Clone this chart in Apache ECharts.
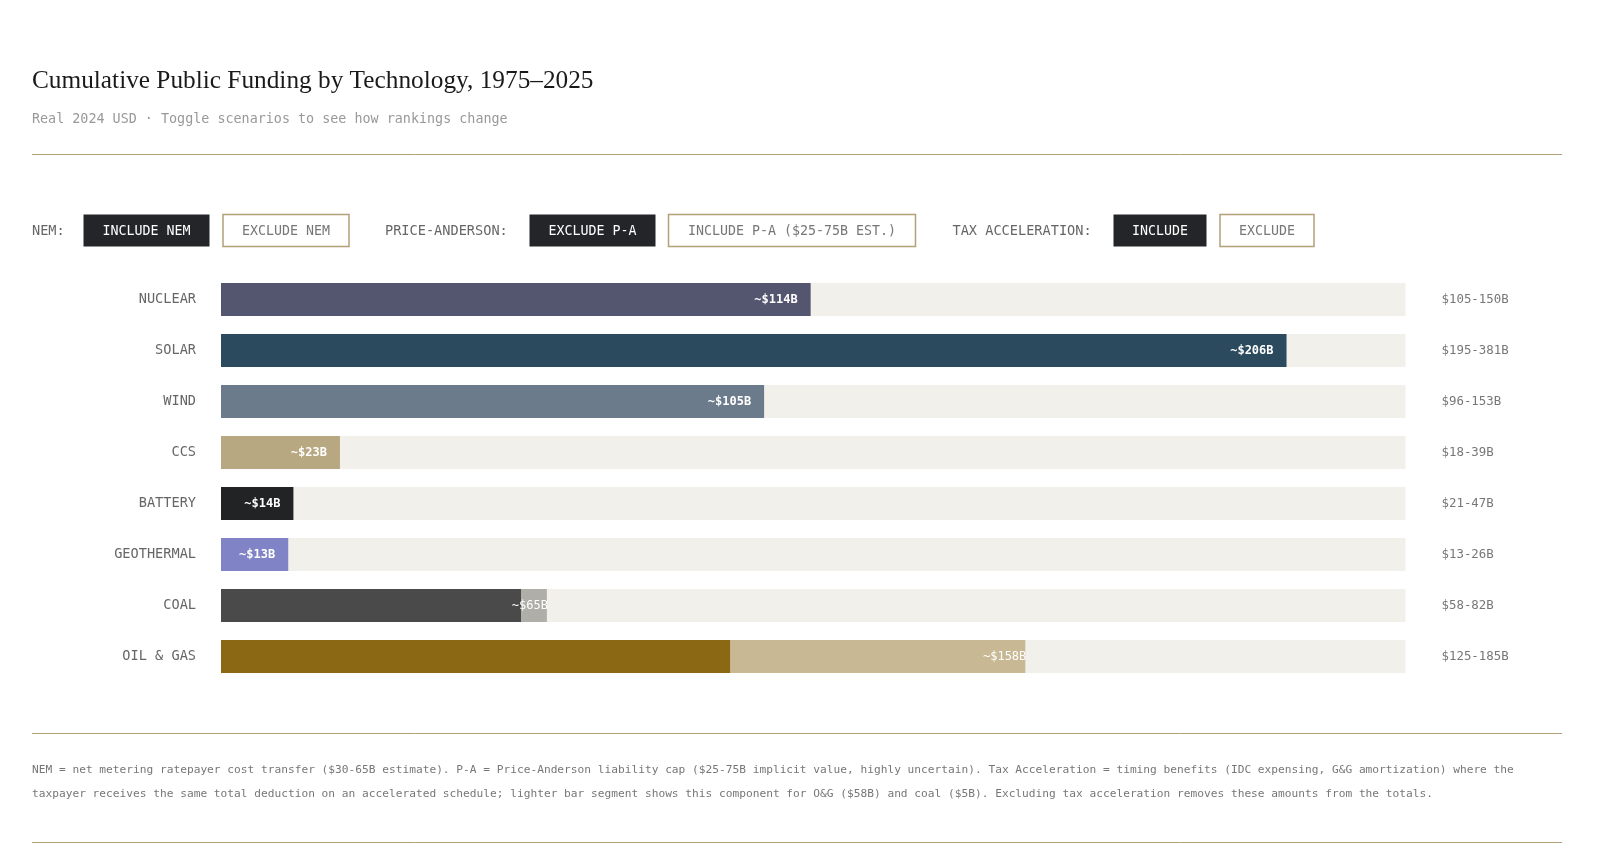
<!DOCTYPE html>
<html>
<head>
<meta charset="utf-8">
<script src="https://cdn.jsdelivr.net/npm/echarts@6/dist/echarts.min.js"></script>
<style>
  html, body { margin: 0; padding: 0; background: #fff; }
  #main { width: 1618px; height: 868px; }
</style>
</head>
<body>
<div id="main"></div>
<script>
// data
var categories = ['NUCLEAR', 'SOLAR', 'WIND', 'CCS', 'BATTERY', 'GEOTHERMAL', 'COAL', 'OIL & GAS'];
var baseValues = [114, 206, 105, 23, 14, 13, 58, 98.5];
var taxAccelValues = [0, 0, 0, 0, 0, 0, 5, 57];
var valueLabels = ['~$114B', '~$206B', '~$105B', '~$23B', '~$14B', '~$13B', '~$65B', '~$158B'];
var rangeLabels = ['$105-150B', '$195-381B', '$96-153B', '$18-39B', '$21-47B', '$13-26B', '$58-82B', '$125-185B'];
var axisMax = 229;

var baseColors = ['#545670', '#2b4a5e', '#6b7b8b', '#b8a882', '#222325', '#8083c6', '#4a4a4a', '#8b6914'];
var taxColors = ['#b0aea8', '#b0aea8', '#b0aea8', '#b0aea8', '#b0aea8', '#b0aea8', '#b0aea8', '#c8b994'];

var MONO = '"DejaVu Sans Mono", "Liberation Mono", monospace';
var SERIF = '"Liberation Serif", "DejaVu Serif", serif';
var TAN = '#b3a079';

var myChart = echarts.init(document.getElementById('main'));

// toggle buttons (static picture of the controls)
var buttons = [
    { text: 'INCLUDE NEM', x: 83.5, w: 126, active: true },
    { text: 'EXCLUDE NEM', x: 223, w: 126, active: false },
    { text: 'EXCLUDE P-A', x: 529.5, w: 126, active: true },
    { text: 'INCLUDE P-A ($25-75B EST.)', x: 668.5, w: 247, active: false },
    { text: 'INCLUDE', x: 1113.5, w: 93, active: true },
    { text: 'EXCLUDE', x: 1220, w: 94, active: false }
];
var groupLabels = [
    { text: 'NEM:', x: 32 },
    { text: 'PRICE-ANDERSON:', x: 385 },
    { text: 'TAX ACCELERATION:', x: 952.5 }
];
var footnote = [
    'NEM = net metering ratepayer cost transfer ($30-65B estimate). P-A = Price-Anderson liability cap ($25-75B implicit value, highly uncertain). Tax Acceleration = timing benefits (IDC expensing, G&G amortization) where the',
    'taxpayer receives the same total deduction on an accelerated schedule; lighter bar segment shows this component for O&G ($58B) and coal ($5B). Excluding tax acceleration removes these amounts from the totals.'
];

var graphics = [];
[154.5, 733.5, 842.5].forEach(function (y) {
    graphics.push({
        type: 'line', silent: true,
        shape: { x1: 32, y1: y, x2: 1562, y2: y },
        style: { stroke: TAN, lineWidth: 1 }
    });
});
groupLabels.forEach(function (g) {
    graphics.push({
        type: 'text', x: g.x, y: 231,
        style: { text: g.text, fill: '#666', font: '13.6px ' + MONO, verticalAlign: 'middle' }
    });
});
buttons.forEach(function (b) {
    graphics.push({
        type: 'rect',
        shape: { x: b.x, y: 214.5, width: b.w, height: 32 },
        style: b.active ? { fill: '#232528' } : { fill: '#fff', stroke: TAN, lineWidth: 1.5 }
    });
    graphics.push({
        type: 'text', x: b.x + b.w / 2, y: 231.5,
        style: {
            text: b.text, fill: b.active ? '#fff' : '#777',
            font: '13.3px ' + MONO, align: 'center', verticalAlign: 'middle'
        }
    });
});
footnote.forEach(function (line, i) {
    graphics.push({
        type: 'text', x: 32, y: 770.5 + i * 23.5,
        style: { text: line, fill: '#777', font: '11.2px ' + MONO, verticalAlign: 'middle' }
    });
});

myChart.setOption({
    backgroundColor: '#fff',
    animation: false,
    title: [{
        text: 'Cumulative Public Funding by Technology, 1975\u20132025',
        left: 27, top: 64,
        textStyle: { fontFamily: SERIF, fontWeight: 'normal', fontSize: 25.3, color: '#1a1a1a' }
    }, {
        text: 'Real 2024 USD \u00b7 Toggle scenarios to see how rankings change',
        left: 27, top: 108,
        textStyle: { fontFamily: MONO, fontWeight: 'normal', fontSize: 13.4, color: '#999' }
    }],
    graphic: graphics,
    grid: { left: 221, right: 212.5, top: 274, height: 408, containLabel: false },
    xAxis: {
        type: 'value', min: 0, max: axisMax, show: false
    },
    yAxis: [{
        type: 'category', data: categories, inverse: true,
        axisLine: { show: false }, axisTick: { show: false },
        axisLabel: { margin: 25, color: '#666', fontFamily: MONO, fontSize: 13.6, padding: [2, 0, 0, 0] }
    }, {
        type: 'category', data: rangeLabels, inverse: true, position: 'right',
        axisLine: { show: false }, axisTick: { show: false },
        axisLabel: { margin: 36, align: 'left', color: '#777', fontFamily: MONO, fontSize: 12.4, padding: [2, 0, 0, 0] }
    }],
    series: [{
        name: 'Base',
        type: 'bar', stack: 'total', barWidth: 33,
        showBackground: true,
        backgroundStyle: { color: '#f2f0eb' },
        data: baseValues.map(function (v, i) {
            return {
                value: v,
                itemStyle: { color: baseColors[i] },
                label: { show: taxAccelValues[i] === 0 }
            };
        }),
        label: {
            position: 'insideRight', distance: 13,
            color: '#fff', fontFamily: MONO, fontWeight: 'bold', fontSize: 12,
            formatter: function (p) { return valueLabels[p.dataIndex]; }
        }
    }, {
        name: 'Tax acceleration',
        type: 'bar', stack: 'total', barWidth: 33,
        data: taxAccelValues.map(function (v, i) {
            return {
                value: v,
                itemStyle: { color: taxColors[i] },
                label: { show: v > 0 }
            };
        }),
        label: {
            position: 'insideRight', distance: -1,
            color: '#fff', fontFamily: MONO, fontSize: 12,
            formatter: function (p) { return valueLabels[p.dataIndex]; }
        }
    }]
});
</script>
</body>
</html>
